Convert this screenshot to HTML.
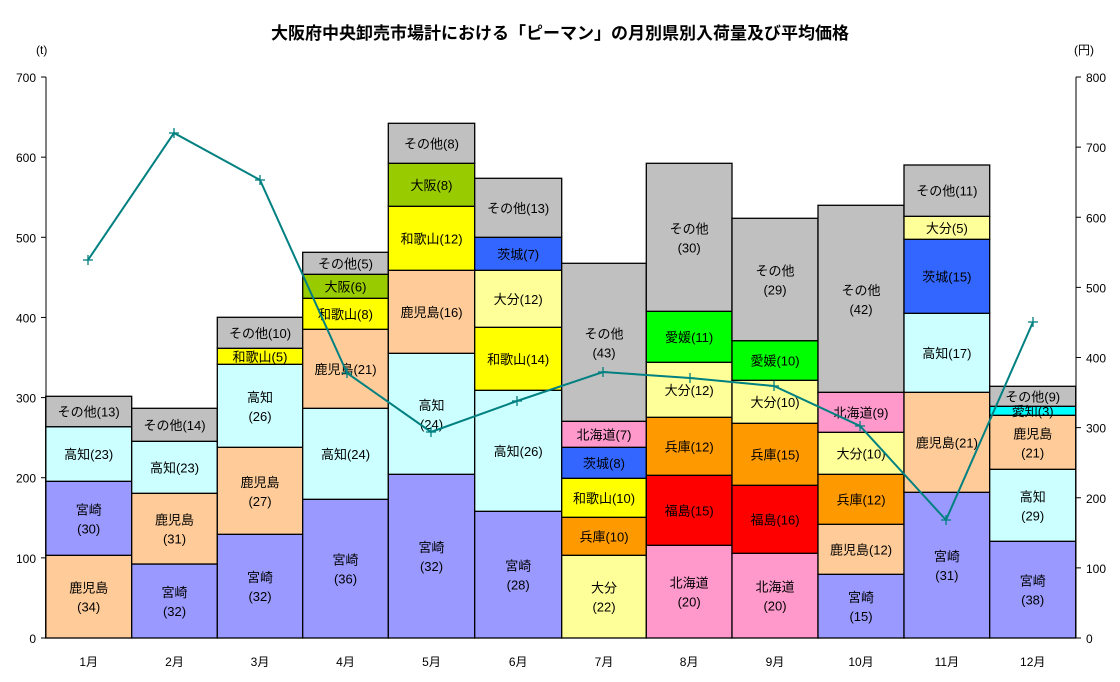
<!DOCTYPE html>
<html><head><meta charset="utf-8"><style>
body{margin:0;background:#fff}
svg text{font-family:"Liberation Sans","Noto Sans CJK JP",sans-serif;}
</style></head><body>
<svg width="1120" height="677" viewBox="0 0 1120 677" xmlns="http://www.w3.org/2000/svg">
<rect width="1120" height="677" fill="#fff"/>
<text x="560" y="39" font-size="17" font-weight="bold" text-anchor="middle">大阪府中央卸売市場計における「ピーマン」の月別県別入荷量及び平均価格</text>
<text x="36" y="54" font-size="12">(t)</text>
<text x="1074" y="54" font-size="12">(円)</text>
<g id="bars" stroke="#000" stroke-width="1.3"></g>
<g id="labels" font-size="13" text-anchor="middle"></g>
<line x1="46" y1="77" x2="46" y2="638" stroke="#000"/>
<line x1="1076" y1="77" x2="1076" y2="638" stroke="#000"/>
<line x1="46" y1="638" x2="1076" y2="638" stroke="#000"/>
<g id="axes" font-size="12"></g>
<polyline id="line" fill="none" stroke="#008080" stroke-width="2"/>
<g id="marks" stroke="#008080" stroke-width="1.3"></g>
</svg>
<script>
const NS="http://www.w3.org/2000/svg";
function el(t,a,p,txt){const e=document.createElementNS(NS,t);for(const k in a)e.setAttribute(k,a[k]);if(txt!==undefined)e.textContent=txt;document.getElementById(p).appendChild(e);return e;}
const P='#9999ff',K='#ffcc99',C='#ccffff',G='#c0c0c0',Y='#ffff00',LY='#ffff99',O='#99cc00',B='#3366ff',OR='#ff9900',R='#ff0000',PK='#ff99cc',GR='#00ff00',CY='#00ffff';
// each: [top y, color, label lines] from bottom up; bottom starts 638
const data=[
[[555.3,K,['鹿児島','(34)']],[481.3,P,['宮崎','(30)']],[426.7,C,['高知(23)']],[396.3,G,['その他(13)']]],
[[564,P,['宮崎','(32)']],[493.3,K,['鹿児島','(31)']],[441.3,C,['高知(23)']],[408.3,G,['その他(14)']]],
[[534.3,P,['宮崎','(32)']],[447.3,K,['鹿児島','(27)']],[364.3,C,['高知','(26)']],[348.3,Y,['和歌山(5)']],[317.3,G,['その他(10)']]],
[[499.3,P,['宮崎','(36)']],[408.3,C,['高知(24)']],[329.3,K,['鹿児島(21)']],[298.3,Y,['和歌山(8)']],[274.3,O,['大阪(6)']],[252.3,G,['その他(5)']]],
[[474.3,P,['宮崎','(32)']],[353.3,C,['高知','(24)']],[270.3,K,['鹿児島(16)']],[206.3,Y,['和歌山(12)']],[163.3,O,['大阪(8)']],[123.3,G,['その他(8)']]],
[[511.3,P,['宮崎','(28)']],[390.3,C,['高知(26)']],[327.3,Y,['和歌山(14)']],[270.3,LY,['大分(12)']],[237.3,B,['茨城(7)']],[178.3,G,['その他(13)']]],
[[555.3,LY,['大分','(22)']],[517.3,OR,['兵庫(10)']],[478.3,Y,['和歌山(10)']],[447.3,B,['茨城(8)']],[421.3,PK,['北海道(7)']],[263.3,G,['その他','(43)']]],
[[545.3,PK,['北海道','(20)']],[475.3,R,['福島(15)']],[417.3,OR,['兵庫(12)']],[362.3,LY,['大分(12)']],[311.3,GR,['愛媛(11)']],[163.3,G,['その他','(30)']]],
[[553.3,PK,['北海道','(20)']],[485.3,R,['福島(16)']],[423.3,OR,['兵庫(15)']],[380.3,LY,['大分(10)']],[340.7,GR,['愛媛(10)']],[218.3,G,['その他','(29)']]],
[[574.3,P,['宮崎','(15)']],[524.3,K,['鹿児島(12)']],[474.3,OR,['兵庫(12)']],[432.3,LY,['大分(10)']],[392.3,PK,['北海道(9)']],[205.3,G,['その他','(42)']]],
[[492.3,P,['宮崎','(31)']],[392.3,K,['鹿児島(21)']],[313.3,C,['高知(17)']],[239.3,B,['茨城(15)']],[216.3,LY,['大分(5)']],[165,G,['その他(11)']]],
[[541.3,P,['宮崎','(38)']],[469.3,C,['高知','(29)']],[415.3,K,['鹿児島','(21)']],[406.3,CY,['愛知(3)']],[386.3,G,['その他(9)']]]
];
const edges=[45.7,131.7,217.3,302.7,388.3,474.7,561.7,646.3,732,818,904,989.7,1075.7];
data.forEach((segs,i)=>{
  let bot=638;const x0=edges[i],x1=edges[i+1],cx=(x0+x1)/2;
  segs.forEach(s=>{
    const top=s[0];
    el('rect',{x:x0,y:top,width:x1-x0,height:bot-top,fill:s[1]},'bars');
    const mid=(top+bot)/2,L=s[2];
    const fill=(s[1]===R)?'#000':'#000';
    if(L.length===1) el('text',{x:cx,y:mid+5},'labels',L[0]);
    else{el('text',{x:cx,y:mid-4},'labels',L[0]);el('text',{x:cx,y:mid+15},'labels',L[1]);}
    bot=top;
  });
  el('text',{x:cx,y:666,'font-size':12,'text-anchor':'middle'},'axes',(i+1)+'月');
});
for(let v=0;v<=700;v+=100){const y=638-v*0.8014;
  el('line',{x1:41,y1:y,x2:46,y2:y,stroke:'#000'},'axes');
  el('text',{x:36,y:y+5,'text-anchor':'end'},'axes',v);}
for(let v=0;v<=800;v+=100){const y=638-v*0.70125;
  el('line',{x1:1076,y1:y,x2:1081,y2:y,stroke:'#000'},'axes');
  el('text',{x:1086,y:y+5},'axes',v);}
const pts=[[88,260],[174,133],[260,180],[347,373],[431,432],[517,401],[603,372],[690,378],[774,386],[860,426],[946,520],[1033,322]];
document.getElementById('line').setAttribute('points',pts.map(p=>p.join(',')).join(' '));
pts.forEach(p=>{el('line',{x1:p[0]-5,y1:p[1],x2:p[0]+5,y2:p[1]},'marks');el('line',{x1:p[0],y1:p[1]-5,x2:p[0],y2:p[1]+5},'marks');});
</script>
</body></html>
